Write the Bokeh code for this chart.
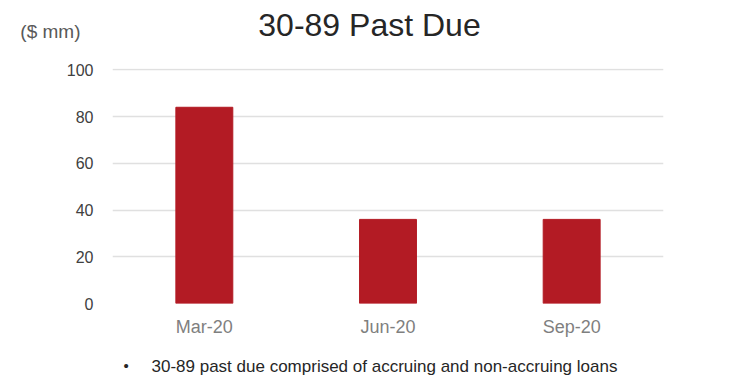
from bokeh.plotting import figure
from bokeh.layouts import column
from bokeh.models import FixedTicker, Range1d
from bokeh.core.properties import value
from bokeh.embed import file_html
from bokeh.resources import INLINE

# 30-89 day past due balances by quarter end ($ mm)
quarters = ["Mar-20", "Jun-20", "Sep-20"]
past_due = [84, 36, 36]
y_ticks = [0, 20, 40, 60, 80, 100]

title_text = "30-89 Past Due"
unit_text = "($ mm)"
note_text = "30-89 past due comprised of accruing and non-accruing loans"

W = 732
HEAD_H, MAIN_H, FOOT_H = 60, 280, 39
LEFT, RIGHT = 112, 69          # shared frame borders so the strips line up
FONT = "Liberation Sans"


def text_strip(height, y_top):
    """A strip whose frame spans the chart's plot area; x and y data run in
    page pixels (y growing downward)."""
    f = figure(width=W, height=height,
               x_range=Range1d(LEFT, W - RIGHT),
               y_range=Range1d(y_top + height, y_top),
               x_axis_type=None,
               output_backend="svg", toolbar_location=None,
               min_border_left=LEFT, min_border_right=RIGHT,
               min_border_top=0, min_border_bottom=0)
    f.outline_line_color = None
    f.grid.visible = False
    f.background_fill_color = "white"
    f.border_fill_color = "white"
    f.yaxis.visible = False
    return f


# header: chart title, with the unit note carried by a one-tick axis
head = text_strip(HEAD_H, 0)
head.yaxis.visible = True
head.yaxis.ticker = FixedTicker(ticks=[31])
head.yaxis.major_label_overrides = {31: unit_text}
head.yaxis.axis_line_color = None
head.yaxis.major_tick_line_color = None
head.yaxis.minor_tick_line_color = None
head.yaxis.major_label_text_font = FONT
head.yaxis.major_label_text_font_size = "19px"
head.yaxis.major_label_text_color = "#595959"
head.yaxis.major_label_standoff = 26
head.text(x=[369], y=[24.5], text=[title_text], text_font=value(FONT),
          text_font_size="32px", text_color="#262626",
          text_align="center", text_baseline="middle")

# main bar chart
p = figure(
    x_range=quarters, y_range=Range1d(0, 100.6),
    width=W, height=MAIN_H,
    output_backend="svg", toolbar_location=None,
    min_border_left=LEFT, min_border_right=RIGHT,
    min_border_top=8, min_border_bottom=37,
)
p.background_fill_color = "white"
p.border_fill_color = "white"
p.outline_line_color = None

p.vbar(x=quarters, top=past_due, width=0.31, color="#b31b24")

for ax in (p.xaxis, p.yaxis):
    ax.axis_line_color = None
    ax.major_tick_line_color = None
    ax.minor_tick_line_color = None
    ax.major_label_text_font = FONT
p.yaxis.ticker = FixedTicker(ticks=y_ticks)
p.xaxis.major_label_text_font_size = "18px"
p.yaxis.major_label_text_font_size = "16px"
p.xaxis.major_label_text_color = "#7f7f7f"
p.yaxis.major_label_text_color = "#404040"
p.xaxis.major_label_standoff = 7
p.yaxis.major_label_standoff = 13

p.xgrid.grid_line_color = None
p.ygrid.grid_line_color = "#e0e0e0"
p.ygrid.grid_line_width = 1.5

# footer: bulleted note
foot = text_strip(FOOT_H, HEAD_H + MAIN_H)
foot.text(x=[123], y=[365], text=["\u2022"], text_font=value(FONT),
          text_font_size="15px", text_color="#262626",
          text_align="left", text_baseline="middle")
foot.text(x=[151], y=[366], text=[note_text], text_font=value(FONT),
          text_font_size="17px", text_color="#262626",
          text_align="left", text_baseline="middle")

layout = column(head, p, foot, spacing=0)
open("out.html", "w").write(file_html(layout, INLINE))
